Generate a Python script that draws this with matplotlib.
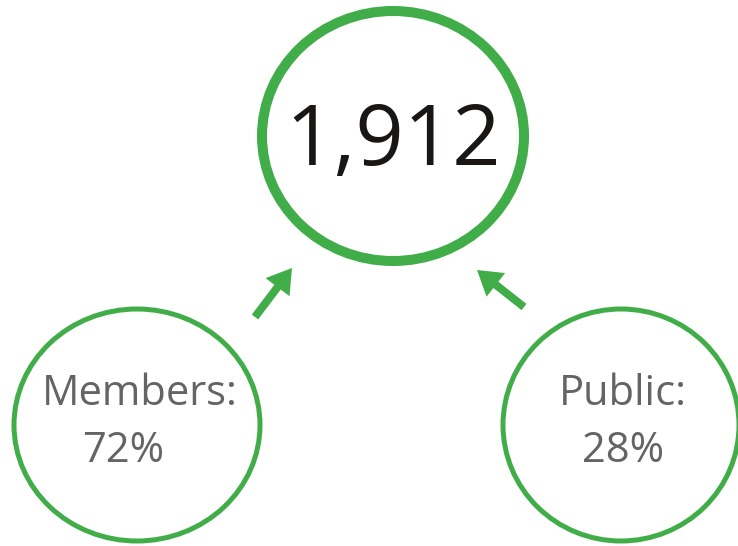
import matplotlib
matplotlib.use("Agg")
import matplotlib.pyplot as plt
from matplotlib.patches import Ellipse, FancyArrow

total = 1912
groups = ["Members", "Public"]
shares = [72, 28]

GREEN = "#41ad49"
GRAY = "#646464"

fig = plt.figure(figsize=(7.38, 5.46), dpi=100)
ax = fig.add_axes([0, 0, 1, 1])
ax.set_xlim(0, 738)
ax.set_ylim(546, 0)
ax.axis("off")

font = ["Open Sans", "DejaVu Sans"]

# big circle
ax.add_patch(Ellipse((393, 136), 262, 250, fill=False, edgecolor=GREEN, lw=7.2))
ax.text(393, 165, f"{total:,}", ha="center", va="baseline", fontsize=61,
        color="#1a1614", family=font)

# small circles
centers = [(137, 425), (621, 425)]
sizes = [(246, 232), (236, 232)]
label_x = [140, 623]
pct_x = [123, 623]
for (cx, cy), (w, h), g, s, lx, px in zip(centers, sizes, groups, shares, label_x, pct_x):
    ax.add_patch(Ellipse((cx, cy), w, h, fill=False, edgecolor=GREEN, lw=3.6))
    ax.text(lx, 405, f"{g}:", ha="center", va="baseline", fontsize=30,
            color=GRAY, family=font)
    ax.text(px, 462, f"{s}%", ha="center", va="baseline", fontsize=30,
            color=GRAY, family=font)

# arrows
arrows = [((255, 317), (292, 268)), ((524, 307), (477, 270))]
for (x0, y0), (x1, y1) in arrows:
    ax.add_patch(FancyArrow(x0, y0, x1 - x0, y1 - y0, width=8, head_width=30,
                            head_length=24, length_includes_head=True,
                            color=GREEN, lw=0))

fig.savefig("out.png", dpi=100)
